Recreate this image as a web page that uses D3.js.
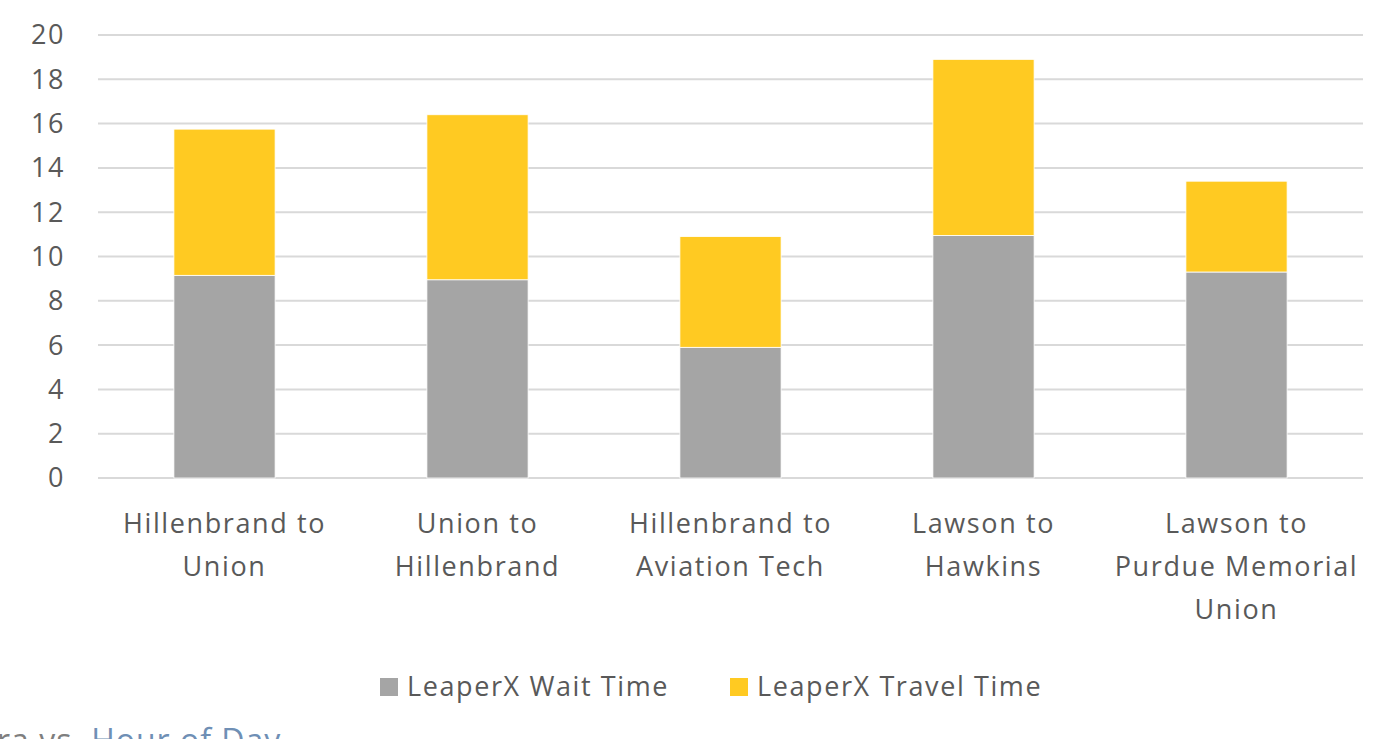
<!DOCTYPE html>
<html lang="en">
<head>
    <meta charset="UTF-8">
    <title>LeaperX Wait and Travel Time</title>
    <style>
        body { margin: 0; background: #fff; overflow: hidden; }
        text { font-family: "Open Sans", "Noto Sans", sans-serif; fill: #595959; font-size: 27px; letter-spacing: 1.6px; }
        .grid line { stroke: #d9d9d9; stroke-width: 2; }
        .bar { stroke: #ffffff; stroke-width: 0.8; }
    </style>
</head>
<body>
    <script src="https://d3js.org/d3.v7.min.js"></script>
    <script>
        // Données du graphique
        var routes = [
            ["Hillenbrand to", "Union"],
            ["Union to", "Hillenbrand"],
            ["Hillenbrand to", "Aviation Tech"],
            ["Lawson to", "Hawkins"],
            ["Lawson to", "Purdue Memorial", "Union"]
        ];
        var waitTime = [9.15, 8.95, 5.9, 10.95, 9.3];
        var travelTime = [6.6, 7.45, 5.0, 7.95, 4.1];
        var seriesNames = ["LeaperX Wait Time", "LeaperX Travel Time"];
        var yTicks = [0, 2, 4, 6, 8, 10, 12, 14, 16, 18, 20];

        var width = 1385, height = 739;
        var plotLeft = 98, plotRight = 1363, plotTop = 35, plotBottom = 478;
        var colors = ["#a5a5a5", "#ffca22"];

        var svg = d3.select("body").append("svg")
            .attr("width", width)
            .attr("height", height);

        var x = d3.scaleBand()
            .domain(d3.range(routes.length))
            .range([plotLeft, plotRight])
            .paddingInner(0.6)
            .paddingOuter(0.3);

        var y = d3.scaleLinear()
            .domain([0, 20])
            .range([plotBottom, plotTop]);

        // lignes de la grille
        svg.append("g").attr("class", "grid")
            .selectAll("line")
            .data(yTicks)
            .enter().append("line")
            .attr("x1", plotLeft).attr("x2", plotRight)
            .attr("y1", function(d) { return y(d); })
            .attr("y2", function(d) { return y(d); });

        // étiquettes de l'axe Y
        svg.append("g")
            .selectAll("text")
            .data(yTicks)
            .enter().append("text")
            .attr("x", 65)
            .attr("y", function(d) { return y(d); })
            .attr("dy", "0.35em")
            .attr("text-anchor", "end")
            .text(function(d) { return d; });

        // barres empilées
        var rows = routes.map(function(r, i) { return { i: i, wait: waitTime[i], travel: travelTime[i] }; });
        var stack = d3.stack().keys(["wait", "travel"])(rows);

        svg.append("g")
            .selectAll("g")
            .data(stack)
            .enter().append("g")
            .attr("fill", function(d, k) { return colors[k]; })
            .selectAll("rect")
            .data(function(d) { return d; })
            .enter().append("rect")
            .attr("class", "bar")
            .attr("x", function(d) { return x(d.data.i); })
            .attr("width", x.bandwidth())
            .attr("y", function(d) { return y(d[1]); })
            .attr("height", function(d) { return y(d[0]) - y(d[1]); });

        // étiquettes des catégories
        var labels = svg.append("g")
            .selectAll("text")
            .data(routes)
            .enter().append("text")
            .attr("text-anchor", "middle")
            .attr("x", function(d, i) { return x(i) + x.bandwidth() / 2; })
            .attr("y", 533);
        labels.selectAll("tspan")
            .data(function(d) { return d; })
            .enter().append("tspan")
            .attr("x", function() { return d3.select(this.parentNode).attr("x"); })
            .attr("dy", function(d, j) { return j === 0 ? 0 : 43; })
            .text(function(d) { return d; });

        // légende
        var legendX = [380, 730];
        var legend = svg.append("g")
            .selectAll("g")
            .data(seriesNames)
            .enter().append("g")
            .attr("transform", function(d, i) { return "translate(" + legendX[i] + ",678)"; });
        legend.append("rect")
            .attr("width", 18).attr("height", 18)
            .attr("fill", function(d, i) { return colors[i]; });
        legend.append("text")
            .attr("x", 27).attr("y", 9)
            .attr("dy", "0.35em")
            .text(function(d) { return d; });

        // texte du document coupé en bas
        var tail = svg.append("text")
            .attr("x", -3).attr("y", 752)
            .style("font-size", "32px")
            .style("letter-spacing", "1px");
        tail.append("tspan").style("fill", "#7f7f7f").text("ra vs. ");
        tail.append("tspan").style("fill", "#6f8fb5").text("Hour of Day");
    </script>
</body>
</html>
